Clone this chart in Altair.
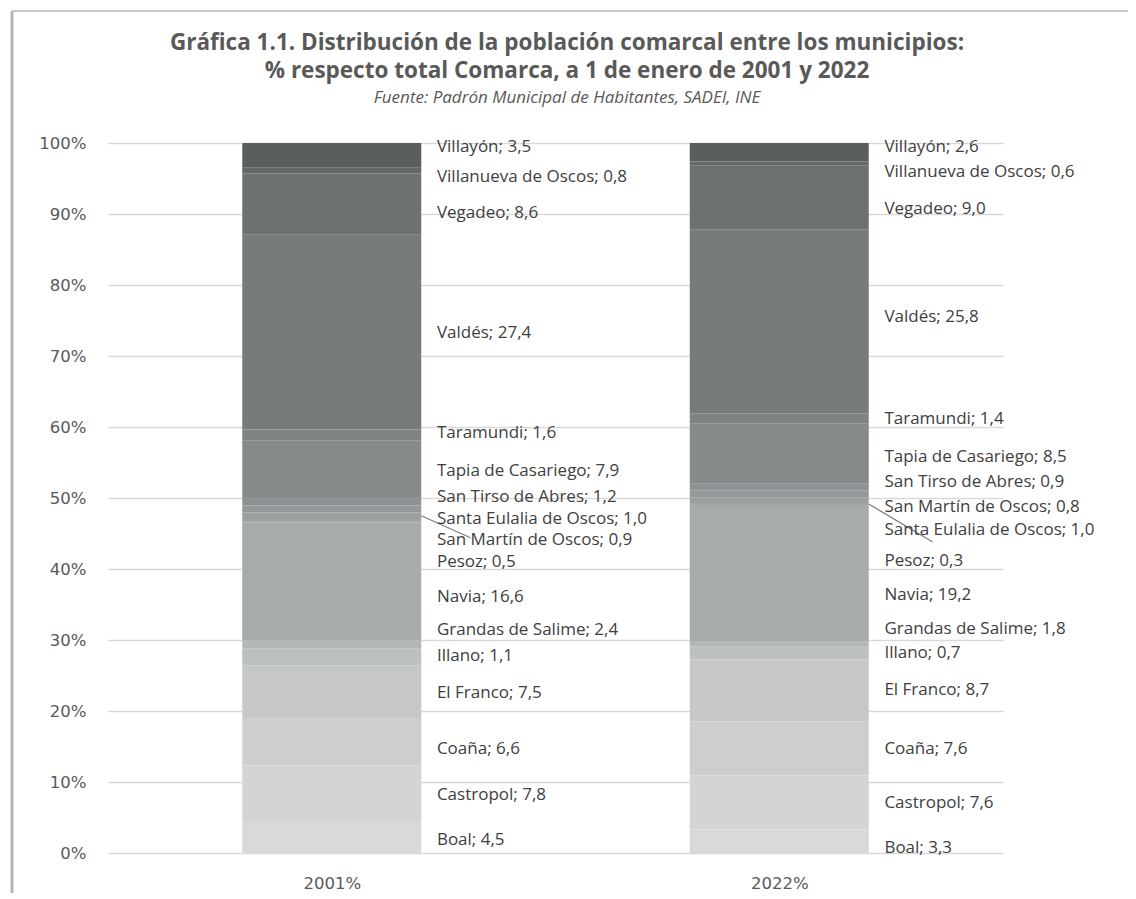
import altair as alt
import pandas as pd

# ---------------- data ----------------
municipios = ["Boal", "Castropol", "Coaña", "El Franco", "Grandas de Salime", "Illano",
              "Navia", "Pesoz", "San Martín de Oscos", "Santa Eulalia de Oscos",
              "San Tirso de Abres", "Tapia de Casariego", "Taramundi", "Valdés",
              "Vegadeo", "Villanueva de Oscos", "Villayón"]
val_2001 = [4.5, 7.8, 6.6, 7.5, 2.4, 1.1, 16.6, 0.5, 0.9, 1.0, 1.2, 7.9, 1.6, 27.4, 8.6, 0.8, 3.5]
val_2022 = [3.3, 7.6, 7.6, 8.7, 1.8, 0.7, 19.2, 0.3, 0.8, 1.0, 0.9, 8.5, 1.4, 25.8, 9.0, 0.6, 2.6]
years = ["2001%", "2022%"]
y_ticks = [0, 0.1, 0.2, 0.3, 0.4, 0.5, 0.6, 0.7, 0.8, 0.9, 1.0]
title_lines = ["Gráfica 1.1. Distribución de la población comarcal entre los municipios:",
               "% respecto total Comarca,  a 1 de enero de 2001  y 2022"]
subtitle = "Fuente: Padrón Municipal de Habitantes, SADEI, INE"

# ---------------- layout (label anchors, share of axis) ----------------
label_y_2001 = [1.8, 8.2, 14.6, 22.5, 31.4, 27.7, 36.1, 41.0, 44.1, 47.1, 50.1, 53.8, 59.2, 73.2, 90.1, 95.2, 99.4]
label_y_2022 = [0.7, 7.0, 14.6, 23.0, 31.5, 28.2, 36.3, 41.1, 48.7, 45.5, 52.3, 55.8, 61.1, 75.5, 90.7, 95.9, 99.4]
# leader lines: (year index, municipality, end x offset in band units, end y in %)
leaders = [(0, "San Martín de Oscos", 0.81, 44.4), (1, "Pesoz", 0.843, 43.8)]

colors = ["#d9d9d9", "#d3d4d4", "#cdcfcf", "#c5c7c8", "#bdc0c0", "#b4b7b8", "#a7abac",
          "#a2a5a6", "#9c9fa0", "#95989a", "#8f9293", "#878a8b", "#808384", "#787b7c",
          "#6e7172", "#656869", "#5b5e5f"]

TEXT = "#404040"
AXIS = "#595959"
FONT = "Open Sans"
AXFONT = "DejaVu Sans"


def fmt(v):
    return f"{v:.1f}".replace(".", ",")


rows = []
for yi, (yr, vals, lys) in enumerate([(years[0], val_2001, label_y_2001),
                                        (years[1], val_2022, label_y_2022)]):
    for i, (m, v, ly) in enumerate(zip(municipios, vals, lys)):
        lead = [l for l in leaders if l[0] == yi and l[1] == m]
        rows.append({
            "year": yr, "xi": yi, "order": i, "name": m, "value": v,
            "label": f"{m}; {fmt(v)}", "ly": ly / 100.0,
            "lead_dx": lead[0][2] if lead else None,
            "lead_y": lead[0][3] / 100.0 if lead else None,
        })
df = pd.DataFrame(rows)

xscale = alt.Scale(domain=[0, 2], nice=False, zero=False)
yscale = alt.Scale(domain=[0, 1], nice=False)

base = alt.Chart(df)

stacked = base.transform_stack(
    stack="value", groupby=["year"], sort=[alt.SortField("order", "ascending")],
    offset="normalize", as_=["y0", "y1"]
).transform_calculate(
    x0="datum.xi + 0.3", x1="datum.xi + 0.7", ymid="(datum.y0 + datum.y1) / 2"
)

xaxis = alt.Axis(values=[0.5, 1.5], title=None, grid=False, ticks=False, domain=False,
                 labelExpr=f"datum.value < 1 ? '{years[0]}' : '{years[1]}'",
                 labelFont=AXFONT, labelFontSize=16.5, labelColor=AXIS, labelPadding=22)
yaxis = alt.Axis(values=y_ticks, format=".0%", title=None, ticks=False, domain=False,
                 grid=True, gridColor="#d9d9d9", gridWidth=1.3,
                 labelFont=AXFONT, labelFontSize=16.5, labelColor=AXIS, labelPadding=22)

bars = stacked.mark_rect().encode(
    x=alt.X("x0:Q", scale=xscale, axis=xaxis),
    x2="x1:Q",
    y=alt.Y("y0:Q", scale=yscale, axis=yaxis),
    y2="y1:Q",
    color=alt.Color("name:N", scale=alt.Scale(domain=municipios, range=colors), legend=None),
)

lead_lines = stacked.transform_filter("isValid(datum.lead_y)").transform_calculate(
    lx0="datum.xi + 0.7", lx1="datum.xi + datum.lead_dx"
).mark_rule(color="#7f7f7f", strokeWidth=1.3).encode(
    x=alt.X("lx0:Q", scale=xscale, axis=xaxis), x2="lx1:Q",
    y=alt.Y("ymid:Q", scale=yscale, axis=yaxis), y2="lead_y:Q",
)

labels = base.transform_calculate(lx="datum.xi + 0.735").mark_text(
    align="left", baseline="middle", font=FONT, fontSize=17, color=TEXT
).encode(
    x=alt.X("lx:Q", scale=xscale, axis=xaxis),
    y=alt.Y("ly:Q", scale=yscale, axis=yaxis),
    text="label:N",
)

tdf = pd.DataFrame({"t": title_lines + [subtitle], "k": [0, 1, 2]})
title1 = alt.Chart(tdf).transform_filter("datum.k == 0").mark_text(
    font=FONT, fontSize=22.5, fontWeight="bold", color=AXIS, align="center", baseline="middle"
).encode(text="t:N", x=alt.value(459), y=alt.value(-100))
title2 = alt.Chart(tdf).transform_filter("datum.k == 1").mark_text(
    font=FONT, fontSize=22.5, fontWeight="bold", color=AXIS, align="center", baseline="middle"
).encode(text="t:N", x=alt.value(459), y=alt.value(-72))
sub = alt.Chart(tdf).transform_filter("datum.k == 2").mark_text(
    font=FONT, fontSize=17, fontStyle="italic", color=AXIS, align="center", baseline="middle"
).encode(text="t:N", x=alt.value(459), y=alt.value(-45))

frame_top = alt.Chart(pd.DataFrame({"k": [0]})).mark_rule(color="#c8c8c8", strokeWidth=2).encode(
    x=alt.value(-96), x2=alt.value(1030), y=alt.value(-132)
)
frame_left = alt.Chart(pd.DataFrame({"k": [0]})).mark_rule(color="#b5b5b5", strokeWidth=3).encode(
    x=alt.value(-96), y=alt.value(-132), y2=alt.value(760)
)

chart = alt.layer(bars, lead_lines, labels, title1, title2, sub, frame_top, frame_left).properties(
    width=895, height=710,
    background="white",
    autosize=alt.AutoSizeParams(type="none"),
    padding={"left": 100, "top": 135, "right": 125, "bottom": 40},
).configure_view(strokeWidth=0, stroke="transparent")

chart.save("out.html", embed_options={"renderer": "svg", "actions": False})
